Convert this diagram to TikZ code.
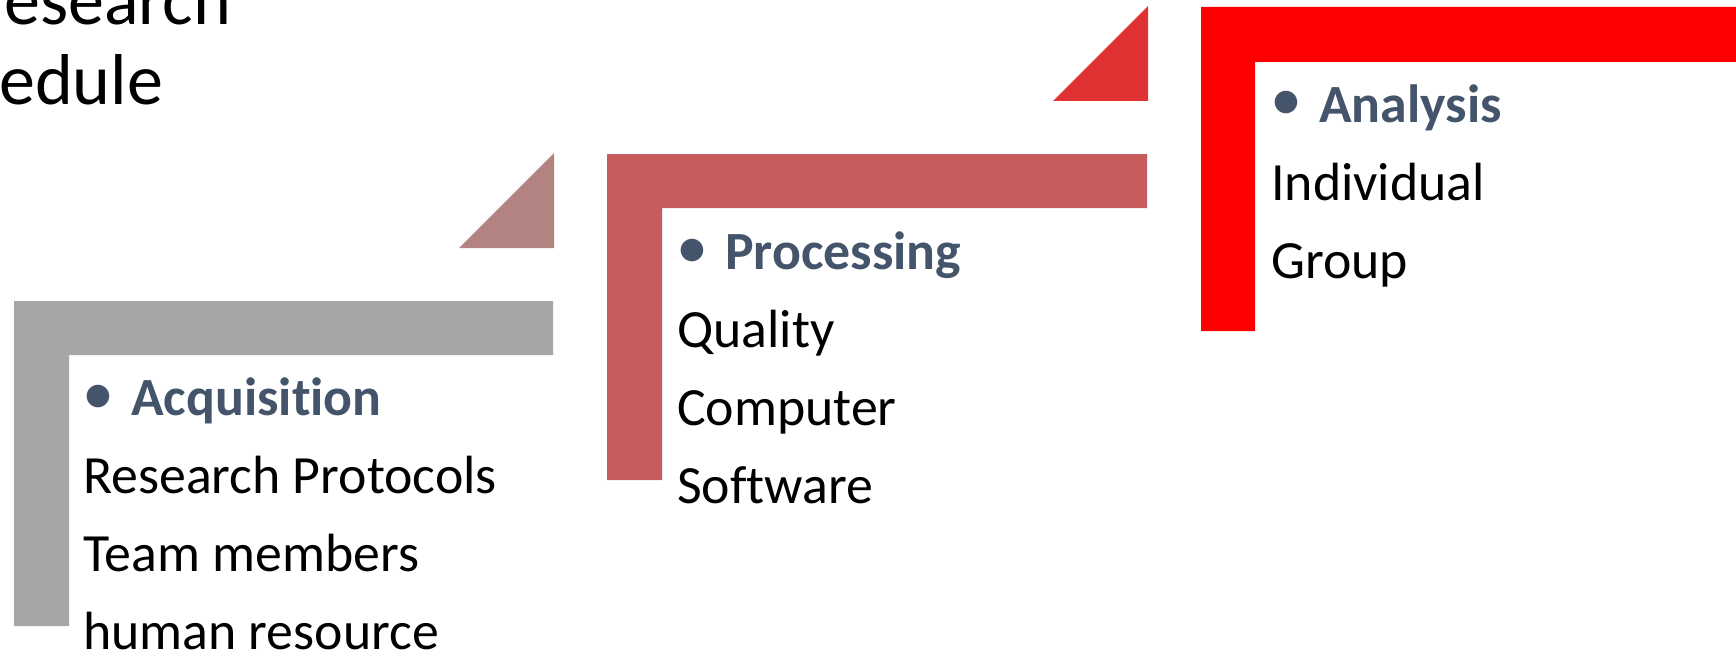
\documentclass[tikz,border=0pt]{standalone}
\usepackage{fontspec}
\setmainfont{Carlito}[Ligatures=NoCommon]
\definecolor{grayL}{HTML}{A6A6A6}
\definecolor{roseL}{HTML}{C85C5C}
\definecolor{roseT}{HTML}{B38382}
\definecolor{redT}{HTML}{E03232}
\definecolor{redL}{HTML}{FF0000}
\definecolor{headc}{HTML}{44546A}
\begin{document}
\begin{tikzpicture}[x=1pt,y=-1pt,
  txt/.style={inner sep=0pt,anchor=base west,font=\fontsize{53.8}{60}\selectfont},
  head/.style={txt,text=headc,font=\fontsize{53.8}{60}\selectfont\bfseries},
  bul/.style={inner sep=0pt,anchor=base west,text=headc,font=\fontsize{64}{70}\selectfont},
  titletxt/.style={inner sep=0pt,anchor=base west,font=\fontsize{72}{80}\selectfont}]
\useasboundingbox (0,0) rectangle (1736,658);
% title (cut off)
\node[titletxt] (t1) at (4,25) {esearch};
\node[titletxt] (t2) at (-1,105) {edule};
% shapes
\fill[grayL] (14,301) -- (553,301) -- (553,355) -- (69,355) -- (69,626) -- (14,626) -- cycle;
\fill[roseT] (459,248) -- (554,153) -- (554,248) -- cycle;
\fill[roseL] (607,154) -- (1147,154) -- (1147,208) -- (662,208) -- (662,480) -- (607,480) -- cycle;
\fill[redT] (1053,101) -- (1148,6) -- (1148,101) -- cycle;
\fill[redL] (1201,7) -- (1736,7) -- (1736,62) -- (1255,62) -- (1255,331) -- (1201,331) -- cycle;
% Acquisition
\node[bul] (b1) at (82,414) {•};
\node[head] (h1) at (131,415) {Acquisition};
\node[txt] (a1) at (83,493) {Research Protocols};
\node[txt] (a2) at (83,571) {Team members};
\node[txt] (a3) at (83,649) {human resource};
% Processing
\node[bul] (b2) at (676,268) {•};
\node[head] (h2) at (725,269) {Processing};
\node[txt] (p1) at (677,347) {Quality};
\node[txt] (p2) at (677,425) {Computer};
\node[txt] (p3) at (677,503) {Software};
% Analysis
\node[bul] (b3) at (1270,121) {•};
\node[head] (h3) at (1319,122) {Analysis};
\node[txt] (n1) at (1271,200) {Individual};
\node[txt] (n2) at (1271,278) {Group};
\end{tikzpicture}
\end{document}
